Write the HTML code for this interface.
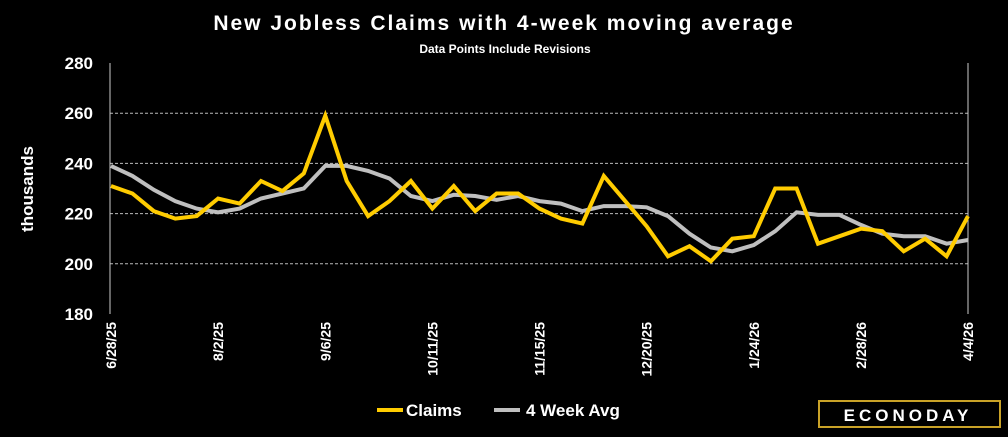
<!DOCTYPE html>
<html><head><meta charset="utf-8"><style>
body{margin:0;background:#000;width:1008px;height:432px;overflow:hidden;font-family:"Liberation Sans",sans-serif;}
svg text{font-family:"Liberation Sans",sans-serif;font-weight:bold;fill:#fff;}
</style></head><body>
<svg id="chart" width="1008" height="432" viewBox="0 0 1008 432">
<text x="504" y="30" font-size="21" text-anchor="middle" letter-spacing="2">New Jobless Claims with 4-week moving average</text>
<text x="505" y="53" font-size="12" text-anchor="middle">Data Points Include Revisions</text>
<text transform="translate(33,189) rotate(-90)" font-size="17" text-anchor="middle" fill="#ddd">thousands</text>
<g id="grid"></g><g id="yticks"></g><g id="xticks"></g><g id="series"></g>
<g>
<line x1="377" y1="410" x2="403" y2="410" stroke="#FFCC00" stroke-width="4"/>
<text x="406" y="416" font-size="17">Claims</text>
<line x1="494" y1="410" x2="520" y2="410" stroke="#bfbfbf" stroke-width="4"/>
<text x="526" y="416" font-size="17">4 Week Avg</text>
</g>
<g>
<rect x="819" y="401" width="181" height="26" fill="#000" stroke="#c9a227" stroke-width="2"/>
<text x="908" y="421" font-size="17" text-anchor="middle" fill="#c9a227" letter-spacing="4">ECONODAY</text>
</g>
</svg>
<script>
const dates=["6/28/25","8/2/25","9/6/25","10/11/25","11/15/25","12/20/25","1/24/26","2/28/26","4/4/26"];
const claims=[231,228,221,218,219,226,224,233,229,236,259,233,219,225,233,222,231,221,228,228,222,218,216,235,225,215,203,207,201,210,211,230,230,208,211,214,213,205,210,203,219];
const avg4=[239,235,229.5,225,222,220.5,222,226,228,230,239,239,237,234,227,225,227.5,227,225.5,227,225,224,221,223,223,222.5,219,212,206.5,205,207.5,213,220.5,219.5,219.5,215.5,212,211,211,208,209.5];
const yTicks=[180,200,220,240,260,280];
const NS="http://www.w3.org/2000/svg";
const L=111,R=968,T=63,B=314,yMin=180,yMax=280;
const n=claims.length;
function xs(i){return L+(R-L)*i/(n-1);}
function ys(v){return B-(v-yMin)/(yMax-yMin)*(B-T);}
function mk(tag,attrs,parent){const e=document.createElementNS(NS,tag);for(const k in attrs)e.setAttribute(k,attrs[k]);parent.appendChild(e);return e;}
const grid=document.getElementById('grid'),yt=document.getElementById('yticks'),xt=document.getElementById('xticks'),ser=document.getElementById('series');
yTicks.forEach(v=>{
  const y=ys(v);
  if(v>yMin&&v<yMax){const g=mk('line',{x1:110,x2:R,y1:y,y2:y,stroke:'#bbb','stroke-width':1,'stroke-dasharray':'3,2'},grid);
  
  }
  const t=mk('text',{x:93,y:y+6,'font-size':17,'text-anchor':'end'},yt);t.textContent=v;
  
  
});
const ax=mk('line',{x1:110,x2:110,y1:T,y2:B,stroke:'#ccc','stroke-width':1},grid);


const rx=mk('line',{x1:R,x2:R,y1:T,y2:B,stroke:'#ccc','stroke-width':1},grid);


dates.forEach((d,k)=>{
  const x=xs(k*5);
  const t=mk('text',{transform:`translate(${x+5},322) rotate(-90)`,'font-size':14,'text-anchor':'end'},xt);t.textContent=d;
  
  
});
function line(arr,color,name){
  const p=arr.map((v,i)=>xs(i).toFixed(1)+','+ys(v).toFixed(1)).join(' ');
  const e=mk('polyline',{points:p,fill:'none',stroke:color,'stroke-width':4,'stroke-linejoin':'miter'},ser);
  
  
}
line(avg4,'#bfbfbf','avg4-line');
line(claims,'#FFCC00','claims-line');
</script>
</body></html>
